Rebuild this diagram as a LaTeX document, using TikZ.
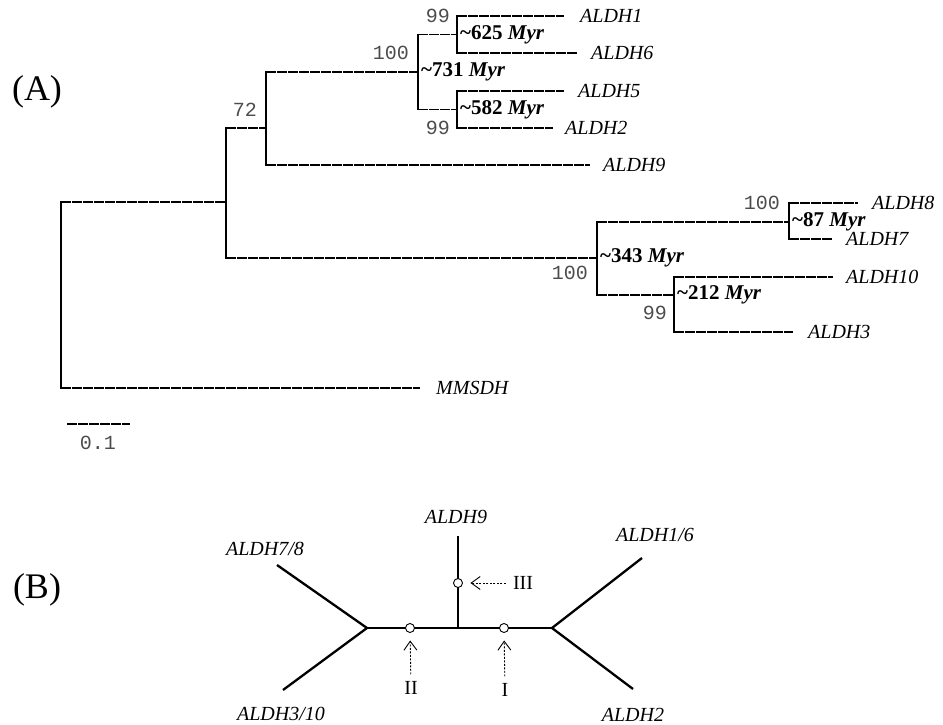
\documentclass[tikz,border=0pt]{standalone}
\usepackage{fontspec}
\setmainfont{Liberation Serif}
\setmonofont{Liberation Mono}
\usetikzlibrary{positioning,arrows.meta}

\begin{document}
\begin{tikzpicture}[x=1pt,y=-1pt,every node/.style={font=\fontsize{20}{24}\selectfont},
  hbr/.style={line width=1.2pt,dash pattern=on 10pt off 1pt},
  vbr/.style={line width=1.2pt,line cap=rect},
  taxon/.style={font=\fontsize{20}{24}\selectfont\itshape,anchor=west,inner sep=0pt},
  boot/.style={font=\fontsize{20}{24}\ttfamily,text=black!70,inner sep=0pt},
  myr/.style={font=\fontsize{21}{24}\selectfont\bfseries,anchor=west,inner sep=0pt},
  panel/.style={font=\fontsize{36}{40}\selectfont},
  arm/.style={line width=2.3pt},
  site/.style={circle,draw,fill=white,line width=0.9pt,minimum size=9pt,inner sep=0pt},
  roman/.style={inner sep=7pt},
  ptr/.style={line width=0.9pt,dash pattern=on 2pt off 1.5pt,shorten >=7.5pt,
    -{Straight Barb[length=9pt,width=13pt]}}]
  \useasboundingbox (0,0) rectangle (943,725);
  \node[panel] (pA) at (37,92) {(A)};
  \node[panel] (pB) at (37,590) {(B)};
  \coordinate (root) at (61,202);
  \coordinate (n1) at (226,202);
  \coordinate (n2) at (266,128);
  \coordinate (n731) at (418,72);
  \coordinate (n625) at (457,34.5);
  \coordinate (n582) at (457,109.5);
  \coordinate (n343) at (597,258);
  \coordinate (n87) at (789,222);
  \coordinate (n212) at (674,295);
  \coordinate (t1) at (564,16);
  \coordinate (t6) at (578,53);
  \coordinate (t5) at (564,91);
  \coordinate (t2) at (553,128);
  \coordinate (t9) at (590,165);
  \coordinate (t8) at (858,203);
  \coordinate (t7) at (833,239);
  \coordinate (t10) at (833,277);
  \coordinate (t3) at (793,332);
  \coordinate (tm) at (420,388);
  \foreach \p/\a/\b in {root/n1/tm,n1/n2/n343,n2/n731/t9,n731/n625/n582,n625/t1/t6,
      n582/t5/t2,n343/n87/n212,n87/t8/t7,n212/t10/t3}
    \draw[vbr] (\p |- \a) -- (\p |- \b);
  \foreach \p/\c in {root/n1,root/tm,n1/n2,n1/n343,n2/n731,n2/t9,n731/n625,n731/n582,
      n625/t1,n625/t6,n582/t5,n582/t2,n343/n87,n343/n212,n87/t8,n87/t7,n212/t10,n212/t3}
    \draw[hbr] (\p |- \c) -- (\c);
  \foreach \t/\txt/\g in {t1/ALDH1/16,t6/ALDH6/13,t5/ALDH5/14,t2/ALDH2/12,t9/ALDH9/13,
      t8/ALDH8/14,t7/ALDH7/13,t10/ALDH10/13,t3/ALDH3/15,tm/MMSDH/16}
    \node[taxon,right=\g pt of \t] (l\t) {\txt};
  \foreach \n/\txt in {n731/731,n625/625,n582/582,n343/343,n87/87,n212/212}
    \node[myr,right=3pt of \n] (m\n) {\textasciitilde\txt{} \textit{Myr}};
  \node[boot,anchor=east] (b625) at ([shift={(-7,-18.5)}]n625) {99};
  \node[boot,anchor=east] (b582) at ([shift={(-7,18)}]n582) {99};
  \node[boot,anchor=east] (b731) at ([shift={(-9,-19)}]n731) {100};
  \node[boot,anchor=east] (b72) at ([shift={(-9,-18)}]n2) {72};
  \node[boot,anchor=east] (b343) at ([shift={(-9,15)}]n343) {100};
  \node[boot,anchor=east] (b87) at ([shift={(-9,-19.5)}]n87) {100};
  \node[boot,anchor=east] (b212) at ([shift={(-7,17.5)}]n212) {99};
  \coordinate (sb1) at (67,424);
  \coordinate (sb2) at (130,424);
  \draw[hbr] (sb1) -- (sb2);
  \node[boot] (sbl) at (98,443) {0.1};
  \coordinate (jl) at (367,628);
  \coordinate (jc) at (458,628);
  \coordinate (jr) at (552,628);
  \coordinate (e9) at (458,536);
  \coordinate (e78) at (277,565);
  \coordinate (e310) at (283,690);
  \coordinate (e16) at (642,558);
  \coordinate (e2) at (633,689);
  \draw[arm] (e78) -- (jl) -- (e310);
  \draw[arm] (e16) -- (jr) -- (e2);
  \draw[arm] (jl) -- (jr);
  \draw[arm] (jc) -- (e9);
  \node[taxon,anchor=center] (u9) at (456,517) {ALDH9};
  \node[taxon,anchor=center] (u78) at (265,549) {ALDH7/8};
  \node[taxon,anchor=center] (u16) at (655,535) {ALDH1/6};
  \node[taxon,anchor=center] (u310) at (281,714) {ALDH3/10};
  \node[taxon,anchor=center] (u2) at (633,715) {ALDH2};
  \node[site] (s3) at (458,583) {};
  \node[site] (s2) at (410,628) {};
  \node[site] (s1) at (504,628) {};
  \node[roman] (rIII) at (523,583) {III};
  \node[roman] (rII) at (411,688) {II};
  \node[roman] (rI) at (505,690) {I};
  \draw[ptr] (rIII) -- (s3);
  \draw[ptr] (rII) -- (s2);
  \draw[ptr] (rI) -- (s1);
\end{tikzpicture}
\end{document}
